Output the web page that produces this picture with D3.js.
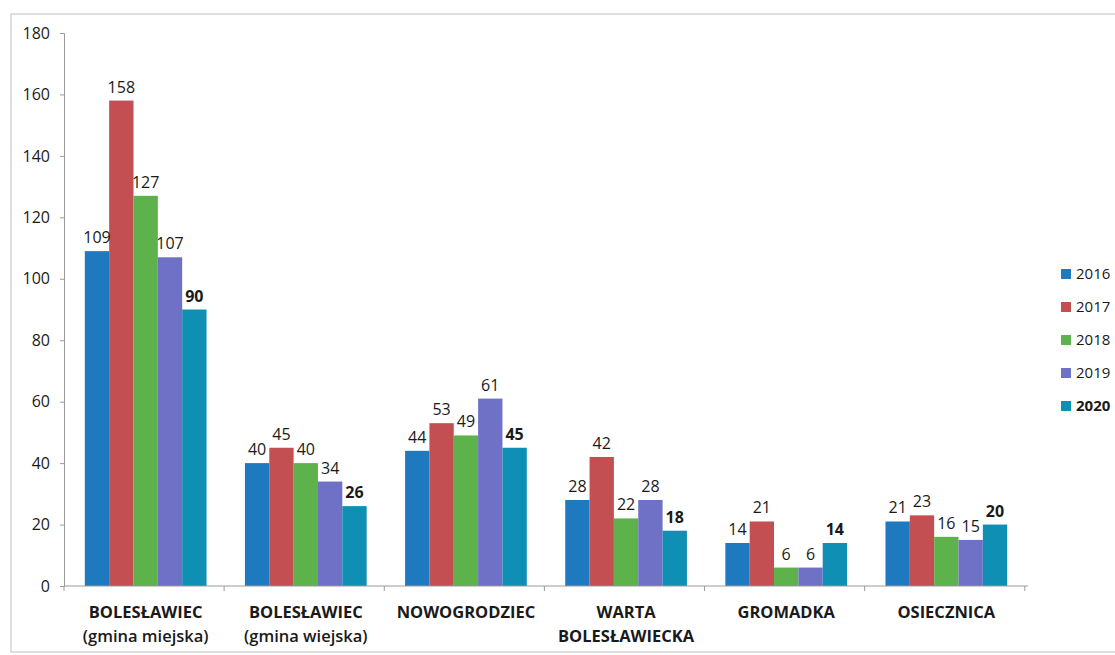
<!DOCTYPE html>
<html>
<head>
<meta charset="utf-8">
<script src="https://cdn.jsdelivr.net/npm/d3@7"></script>
<style>
  body { margin: 0; background: #fff; }
  text { font-family: "Open Sans", "Noto Sans", sans-serif; fill: #1a1a1a; }
</style>
</head>
<body>
<script>
// categories and yearly series
const categories = ["BOLESŁAWIEC|(gmina miejska)", "BOLESŁAWIEC|(gmina wiejska)", "NOWOGRODZIEC",
  "WARTA|BOLESŁAWIECKA", "GROMADKA", "OSIECZNICA"];
const years = ["2016", "2017", "2018", "2019", "2020"];
const v2016 = [109, 40, 44, 28, 14, 21];
const v2017 = [158, 45, 53, 42, 21, 23];
const v2018 = [127, 40, 49, 22, 6, 16];
const v2019 = [107, 34, 61, 28, 6, 15];
const v2020 = [90, 26, 45, 18, 14, 20];
const yTicks = [0, 20, 40, 60, 80, 100, 120, 140, 160, 180];
const colors = ["#1f79be", "#c44f53", "#5db24b", "#6f71c6", "#0e8fb3"];

const series = [v2016, v2017, v2018, v2019, v2020];

const width = 1115, height = 655;
const margin = {top: 33, right: 87, bottom: 69, left: 64};

const svg = d3.select("body").append("svg")
  .attr("width", width)
  .attr("height", height);

// faint frame of the scanned chart
svg.append("rect")
  .attr("x", 11).attr("y", 14)
  .attr("width", width + 20).attr("height", 638)
  .attr("fill", "none")
  .attr("stroke", "#d4d4d4")
  .attr("stroke-width", 1.5);

const x0 = d3.scaleBand()
  .domain(categories)
  .range([margin.left, width - margin.right])
  .paddingInner(0.24)
  .paddingOuter(0.13);

const x1 = d3.scaleBand()
  .domain(years)
  .range([0, x0.bandwidth()]);

const y = d3.scaleLinear()
  .domain([0, 180])
  .range([height - margin.bottom, margin.top]);

// y axis
const yAxis = svg.append("g")
  .attr("transform", "translate(" + margin.left + ",0)")
  .call(d3.axisLeft(y).tickValues(yTicks).tickSize(4).tickPadding(10));
yAxis.selectAll("path, line").attr("stroke", "#9a9a9a");
yAxis.selectAll("text").style("font-size", "16px").attr("fill", "#1a1a1a");

// bars
const groups = svg.append("g").selectAll("g")
  .data(categories)
  .enter().append("g")
  .attr("transform", function(d) { return "translate(" + x0(d) + ",0)"; });

groups.selectAll("rect")
  .data(function(d, i) { return years.map(function(yr, j) { return {yr: yr, j: j, v: series[j][i]}; }); })
  .enter().append("rect")
  .attr("x", function(d) { return x1(d.yr); })
  .attr("y", function(d) { return y(d.v); })
  .attr("width", x1.bandwidth())
  .attr("height", function(d) { return y(0) - y(d.v); })
  .attr("fill", function(d) { return colors[d.j]; });

groups.selectAll("text")
  .data(function(d, i) { return years.map(function(yr, j) { return {yr: yr, j: j, v: series[j][i]}; }); })
  .enter().append("text")
  .attr("x", function(d) { return x1(d.yr) + x1.bandwidth() / 2; })
  .attr("y", function(d) { return y(d.v) - 8; })
  .attr("text-anchor", "middle")
  .style("font-size", "16px")
  .style("font-weight", function(d) { return d.j === 4 ? "bold" : "normal"; })
  .text(function(d) { return d.v; });

// x axis
const xAxis = svg.append("g")
  .attr("transform", "translate(0," + y(0) + ")");
xAxis.append("line")
  .attr("x1", margin.left).attr("x2", width - margin.right)
  .attr("stroke", "#9a9a9a");
const step = x0.step();
const edges = d3.range(categories.length + 1).map(function(i) { return margin.left + i * step; });
xAxis.selectAll(".tk")
  .data(edges)
  .enter().append("line")
  .attr("x1", function(d) { return d; }).attr("x2", function(d) { return d; })
  .attr("y1", 0).attr("y2", 5)
  .attr("stroke", "#9a9a9a");

const labels = svg.append("g").selectAll("text")
  .data(categories)
  .enter().append("text")
  .attr("x", function(d) { return x0(d) + x0.bandwidth() / 2; })
  .attr("y", y(0) + 32)
  .attr("text-anchor", "middle")
  .style("font-size", "16.5px")
  .style("font-weight", "bold");
labels.each(function(d) {
  const parts = d.split("|");
  const t = d3.select(this);
  parts.forEach(function(p, i) {
    t.append("tspan")
      .attr("x", t.attr("x"))
      .attr("dy", i === 0 ? 0 : 24)
      .style("font-weight", p.startsWith("(") ? "600" : "bold")
      .text(p);
  });
});

// legend
const legend = svg.append("g").selectAll("g")
  .data(years)
  .enter().append("g")
  .attr("transform", function(d, i) { return "translate(1061," + (274 + i * 33) + ")"; });
legend.append("rect")
  .attr("x", 0).attr("y", -5)
  .attr("width", 10).attr("height", 10)
  .attr("fill", function(d, i) { return colors[i]; });
legend.append("text")
  .attr("x", 15).attr("y", 0)
  .attr("dy", "0.35em")
  .style("font-size", "15px")
  .style("font-weight", function(d, i) { return i === 4 ? "bold" : "normal"; })
  .text(function(d) { return d; });
</script>
</body>
</html>
